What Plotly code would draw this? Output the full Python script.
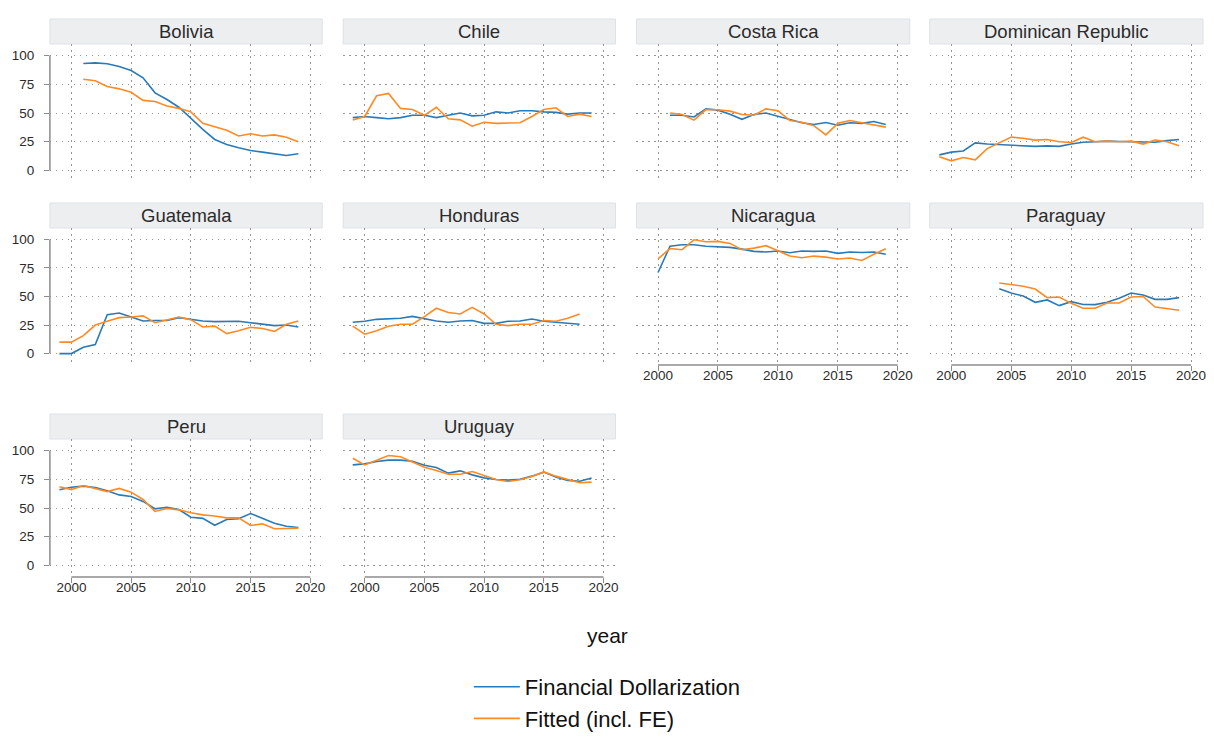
import plotly.graph_objects as go

# ---- data ----
YEARS_99_19 = list(range(1999, 2020))
YEARS_01_19 = list(range(2001, 2020))
YEARS_00_19 = list(range(2000, 2020))
YEARS_99_18 = list(range(1999, 2019))
YEARS_04_19 = list(range(2004, 2020))

BOLIVIA_FD = [93, 93.6, 92.8, 90.4, 87, 80.6, 67.5, 61.7, 55, 45, 35.7, 27, 22.6, 19.7, 17.4, 16, 14.5, 13, 14.5]
BOLIVIA_FIT = [79.4, 78, 73, 71, 68, 61, 60, 56, 54, 51, 41, 38, 35, 30, 32, 30, 31, 29, 25]

CHILE_FD = [46, 47, 46, 45, 46, 48, 48, 46, 48, 50, 47.5, 48, 51, 50, 52, 52, 51, 50.5, 49, 50, 50]
CHILE_FIT = [44, 47, 65, 67, 54, 53, 48, 55, 45, 44, 38.5, 42, 41, 41, 41.5, 47, 53, 54.5, 47, 49, 47]

COSTA_RICA_FD = [48, 48, 46.5, 53.6, 52.5, 49, 44.5, 48.7, 50, 47, 44, 41.5, 40, 41.7, 39.4, 41.5, 41, 42.6, 40]
COSTA_RICA_FIT = [50, 48.7, 43.8, 53, 52.8, 51.6, 48.7, 48, 53.6, 52, 43.5, 42, 39, 31, 41, 43.5, 41.5, 39.4, 37.7]

DOMINICAN_FD = [13.6, 16, 17, 24, 23, 22.6, 21.7, 21.7, 21, 21.4, 21, 23, 24.6, 25, 25.5, 25.2, 25.2, 25, 24.6, 26, 27]
DOMINICAN_FIT = [12, 8.4, 11.3, 9.3, 19, 24, 29, 28, 26.4, 27, 25, 24.3, 29, 25, 25.5, 25, 25.5, 23, 26.4, 25, 21.5]

GUATEMALA_FD = [0, 0, 5.5, 8, 34, 35.5, 32, 28.6, 29, 29, 31.5, 30, 28.6, 28, 28.3, 28.3, 27, 26, 24.5, 25, 23.3]
GUATEMALA_FIT = [10, 10, 15.7, 25, 28.3, 31.5, 32, 33, 27, 29.7, 32, 29.7, 23.3, 24, 17.5, 20, 23, 22, 19.5, 25.7, 28.6]

HONDURAS_FD = [27.4, 28.3, 30, 30.6, 31, 32.6, 30.6, 28.6, 27.4, 28.6, 29, 26.5, 26.5, 28.3, 28.6, 30.3, 28.3, 27.4, 26.8, 25.7]
HONDURAS_FIT = [24, 17, 20, 24, 25.7, 25.7, 32.4, 39.7, 36, 34.7, 40.5, 34.7, 25.7, 24.5, 25.7, 25.7, 29, 28.3, 31, 34.7]

NICARAGUA_FD = [71, 94, 95.3, 95.3, 94, 93.6, 93, 91.5, 89.5, 89, 89.8, 88.3, 89.8, 89.5, 89.8, 87.8, 89, 88.6, 89, 87]
NICARAGUA_FIT = [83, 92, 91, 99.7, 98, 98.3, 96.5, 91, 92.4, 94.5, 90, 85.4, 84, 85.4, 84.5, 82.8, 83.7, 81.6, 87, 91.8]

PARAGUAY_FD = [56.8, 53, 50.4, 44.9, 47, 42, 45.5, 43, 42.9, 45, 48.4, 53, 51.3, 47.5, 47.5, 49]
PARAGUAY_FIT = [61.8, 60.3, 59, 56.5, 49, 49.5, 44, 39.7, 39.7, 44.3, 44.3, 49.5, 50, 40.8, 39.7, 38]

PERU_FD = [65.8, 68, 69, 67.8, 65, 61.4, 60, 55.7, 49.3, 50.7, 48.7, 42, 41, 35, 40, 40.6, 45.2, 41, 36.8, 34.2, 33]
PERU_FIT = [68.4, 66, 69.6, 67, 64.3, 67, 63.8, 57.4, 47, 49.6, 48.4, 45.8, 44, 43, 41.4, 41.4, 34.8, 36.2, 32, 32.2, 32.5]

URUGUAY_FD = [87.5, 88.4, 90.4, 91.6, 91.6, 90.7, 87.2, 85.2, 80.3, 82.3, 78.8, 76.2, 74.8, 74.2, 75, 77.7, 81.2, 77, 74, 73.3, 76]
URUGUAY_FIT = [93.3, 87.5, 91.6, 95.6, 94.5, 89.8, 85.5, 82.6, 79.4, 79.4, 81.7, 78.3, 74.8, 73, 74.5, 77.4, 81.4, 77.7, 74.8, 71.9, 72.5]

COUNTRIES = ["Bolivia", "Chile", "Costa Rica", "Dominican Republic", "Guatemala",
             "Honduras", "Nicaragua", "Paraguay", "Peru", "Uruguay"]
PANEL_YEARS = [YEARS_01_19, YEARS_99_19, YEARS_01_19, YEARS_99_19, YEARS_99_19,
               YEARS_99_18, YEARS_00_19, YEARS_04_19, YEARS_99_19, YEARS_99_19]
PANEL_FD = [BOLIVIA_FD, CHILE_FD, COSTA_RICA_FD, DOMINICAN_FD, GUATEMALA_FD,
            HONDURAS_FD, NICARAGUA_FD, PARAGUAY_FD, PERU_FD, URUGUAY_FD]
PANEL_FIT = [BOLIVIA_FIT, CHILE_FIT, COSTA_RICA_FIT, DOMINICAN_FIT, GUATEMALA_FIT,
             HONDURAS_FIT, NICARAGUA_FIT, PARAGUAY_FIT, PERU_FIT, URUGUAY_FIT]

X_TICKS = [2000, 2005, 2010, 2015, 2020]
Y_TICKS = [0, 25, 50, 75, 100]

# ---- styling ----
W, H = 1214, 738
BLUE = "#2a7ab8"
ORANGE = "#ff8a24"
GRID = "#959595"
AXIS = "#8c8c8c"
TEXT = "#2b2b2b"
FONT = "Liberation Sans, Arial, sans-serif"

COL_PX = [(42, 315), (336, 609), (630, 904), (924, 1198)]
ROW_PX = [(36, 174), (220, 357), (431, 569)]
STRIP_H = 25


def px_x(v):
    return v / W


def px_y(v):
    return 1 - v / H


fig = go.Figure()
shapes = []
annotations = []
layout_axes = {}

for k, name in enumerate(COUNTRIES):
    row, col = divmod(k, 4)
    n = k + 1
    xa, ya = f"x{n}" if n > 1 else "x", f"y{n}" if n > 1 else "y"
    x0, x1 = COL_PX[col]
    y0, y1 = ROW_PX[row]
    show_x = k in (6, 7, 8, 9)
    show_y = col == 0

    fig.add_trace(go.Scatter(x=PANEL_YEARS[k], y=PANEL_FD[k], mode="lines", name="Financial Dollarization",
                             line={"color": BLUE, "width": 1.6}, xaxis=xa, yaxis=ya,
                             legendgroup="fd", showlegend=(k == 0)))
    fig.add_trace(go.Scatter(x=PANEL_YEARS[k], y=PANEL_FIT[k], mode="lines", name="Fitted (incl. FE)",
                             line={"color": ORANGE, "width": 1.6}, xaxis=xa, yaxis=ya,
                             legendgroup="fit", showlegend=(k == 0)))

    layout_axes[f"xaxis{n}"] = dict(
        domain=[px_x(x0), px_x(x1)], anchor=ya, range=[1998.2, 2021],
        tickvals=X_TICKS, showticklabels=show_x, ticks="outside" if show_x else "",
        ticklen=5, tickcolor=AXIS, tickwidth=1.2, ticklabelstandoff=-7,
        showgrid=True, gridcolor=GRID, griddash="1.5px,4.5px",
        gridwidth=1.3, zeroline=False, showline=False,
        tickfont={"size": 13.5, "color": TEXT, "family": FONT},
    )
    layout_axes[f"yaxis{n}"] = dict(
        domain=[px_y(y1), px_y(y0)], anchor=xa, range=[-10, 110],
        tickvals=Y_TICKS, showticklabels=show_y, ticks="outside" if show_y else "",
        ticklen=5, tickcolor=AXIS, tickwidth=1.2, ticklabelstandoff=7,
        showgrid=True, gridcolor=GRID, griddash="1.5px,4.5px",
        gridwidth=1.3, zeroline=False, showline=False,
        tickfont={"size": 13.5, "color": TEXT, "family": FONT},
    )

    # facet strip
    shapes.append(dict(type="rect", xref="paper", yref="paper",
                       x0=px_x(x0), x1=px_x(x1), y0=px_y(y0), y1=px_y(y0 - STRIP_H),
                       fillcolor="#edeef0", line={"color": "#dde2e8", "width": 1}, layer="below"))
    annotations.append(dict(text=name, xref="paper", yref="paper",
                            x=px_x((x0 + x1) / 2), y=px_y(y0 - STRIP_H / 2),
                            xanchor="center", yanchor="middle", showarrow=False,
                            font={"size": 18.5, "color": TEXT, "family": FONT}))

    # range-frame axis lines
    if show_y:
        shapes.append(dict(type="line", xref=f"{xa} domain", yref=ya, x0=0, x1=0, y0=0, y1=100,
                           line={"color": AXIS, "width": 1.5}))
    if show_x:
        shapes.append(dict(type="line", xref=xa, yref=f"{ya} domain", x0=2000, x1=2020, y0=0, y1=0,
                           line={"color": AXIS, "width": 1.5}))

annotations.append(dict(text="year", xref="paper", yref="paper", x=px_x(601), y=px_y(627),
                        xanchor="center", yanchor="middle", showarrow=False,
                        font={"size": 21, "color": "#111", "family": FONT}))

fig.update_layout(
    **layout_axes,
    width=W,
    height=H,
    margin={"l": 0, "r": 0, "t": 0, "b": 0},
    paper_bgcolor="white",
    plot_bgcolor="white",
    font={"family": FONT, "color": TEXT},
    shapes=shapes,
    annotations=annotations,
    showlegend=True,
    legend={"orientation": "v", "x": px_x(462), "xanchor": "left", "y": px_y(658), "yanchor": "top",
            "font": {"size": 22, "color": "#111", "family": FONT}, "tracegroupgap": 0,
            "itemwidth": 46, "bgcolor": "rgba(0,0,0,0)"},
)

fig.write_html("out.html")
